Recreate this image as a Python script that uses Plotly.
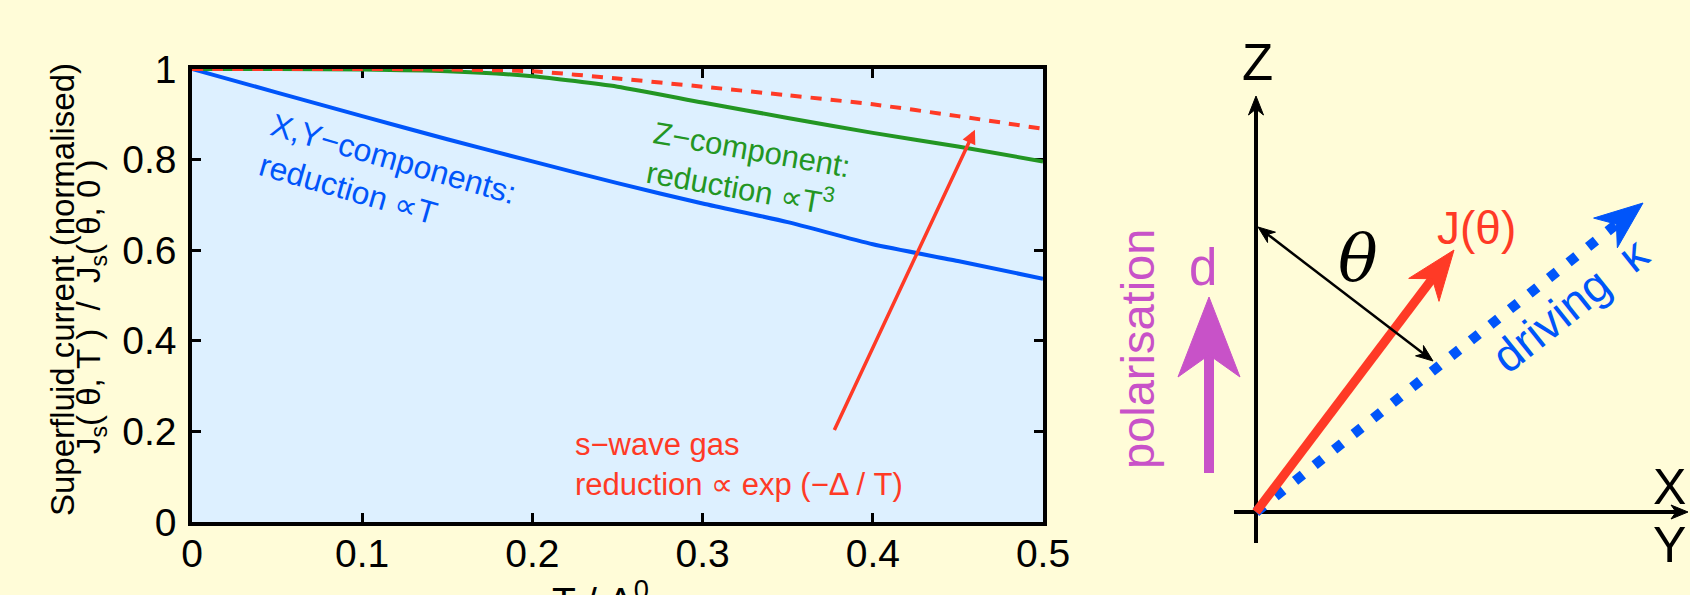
import math
import plotly.graph_objects as go

W, H = 1690, 595

# ---------------- main chart data ----------------
T = [0.0, 0.05, 0.10, 0.15, 0.20, 0.25, 0.30, 0.35, 0.40, 0.45, 0.50]
J_XY = [1.000, 0.948, 0.896, 0.845, 0.796, 0.748, 0.703, 0.662, 0.613, 0.576, 0.537]
J_Z = [1.000, 1.000, 0.999, 0.995, 0.984, 0.961, 0.926, 0.892, 0.859, 0.829, 0.796]
J_SWAVE = [1.000, 1.000, 1.000, 0.999, 0.995, 0.979, 0.961, 0.942, 0.922, 0.896, 0.868]
X_TICKS = [0, 0.1, 0.2, 0.3, 0.4, 0.5]
Y_TICKS = [0, 0.2, 0.4, 0.6, 0.8, 1]
SWAVE_ARROW_TAIL = (0.377, 0.20)
SWAVE_ARROW_TIP = (0.460, 0.866)

# ---------------- diagram data (units of 100 px, origin at axes crossing) ----------------
Z_AXIS = [(0.0, -0.31), (0.0, 4.16)]
X_AXIS = [(-0.22, 0.0), (4.32, 0.0)]
J_VEC = [(0.0, 0.0), (1.98, 2.62)]
K_VEC = [(0.0, 0.0), (3.87, 3.09)]
D_VEC = [(-0.47, 0.39), (-0.47, 2.15)]
THETA_ARROW = [(0.02, 2.85), (1.77, 1.51)]

# colours
PAPER = "rgb(255,252,216)"
PLOTBG = "rgb(221,240,255)"
BLUE = "rgb(0,85,250)"
GREEN = "rgb(35,150,35)"
RED = "rgb(255,58,38)"
MAGENTA = "rgb(200,82,200)"
FONT = "Liberation Sans, Arial, Helvetica, sans-serif"

fig = go.Figure()

# ---- main chart traces ----
fig.add_trace(go.Scatter(x=T, y=J_XY, mode="lines", line=dict(color=BLUE, width=4, shape="spline", smoothing=0.6),
                         showlegend=False, hoverinfo="skip"))
fig.add_trace(go.Scatter(x=T, y=J_Z, mode="lines", line=dict(color=GREEN, width=4, shape="spline", smoothing=0.6),
                         showlegend=False, hoverinfo="skip"))
fig.add_trace(go.Scatter(x=T, y=J_SWAVE, mode="lines",
                         line=dict(color=RED, width=4, dash="11px,9px", shape="spline", smoothing=0.6),
                         showlegend=False, hoverinfo="skip"))


# ---- diagram helpers ----
def head_poly(p0, p1, length, half, notch):
    (x0, y0), (x1, y1) = p0, p1
    dx, dy = x1 - x0, y1 - y0
    L = math.hypot(dx, dy)
    ux, uy = dx / L, dy / L
    nx, ny = -uy, ux
    bx, by = x1 - ux * length, y1 - uy * length
    xs = [x1, bx + nx * half, x1 - ux * notch, bx - nx * half, x1]
    ys = [y1, by + ny * half, y1 - uy * notch, by - ny * half, y1]
    shaft_end = (x1 - ux * notch * 0.95, y1 - uy * notch * 0.95)
    return xs, ys, shaft_end


def add_arrow(p0, p1, color, width, length, half, notch, dash=None, both=False):
    xs, ys, end = head_poly(p0, p1, length, half, notch)
    start = p0
    if both:
        xs2, ys2, start = head_poly(p1, p0, length, half, notch)
    line = dict(color=color, width=width)
    if dash:
        line["dash"] = dash
    fig.add_trace(go.Scatter(x=[start[0], end[0]], y=[start[1], end[1]], mode="lines",
                             line=line, xaxis="x2", yaxis="y2",
                             showlegend=False, hoverinfo="skip"))
    fig.add_trace(go.Scatter(x=xs, y=ys, mode="lines", fill="toself", fillcolor=color,
                             line=dict(color=color, width=1), xaxis="x2", yaxis="y2",
                             showlegend=False, hoverinfo="skip"))
    if both:
        fig.add_trace(go.Scatter(x=xs2, y=ys2, mode="lines", fill="toself", fillcolor=color,
                                 line=dict(color=color, width=1), xaxis="x2", yaxis="y2",
                                 showlegend=False, hoverinfo="skip"))


# coordinate axes of the diagram
add_arrow(Z_AXIS[0], Z_AXIS[1], "black", 4, 0.19, 0.075, 0.13)
add_arrow(X_AXIS[0], X_AXIS[1], "black", 4, 0.17, 0.07, 0.12)
# driving kappa (dotted blue)
add_arrow(K_VEC[0], K_VEC[1], BLUE, 10, 0.48, 0.19, 0.34, dash="10px,15px")
# current J (red)
add_arrow(J_VEC[0], J_VEC[1], RED, 9, 0.50, 0.19, 0.36)
# polarisation d (magenta)
add_arrow(D_VEC[0], D_VEC[1], MAGENTA, 10, 0.80, 0.31, 0.58)
# theta double arrow
add_arrow(THETA_ARROW[0], THETA_ARROW[1], "black", 2.5, 0.17, 0.065, 0.12, both=True)

# ---- annotations ----
ann = []
# red arrow inside plot
ann.append(dict(x=SWAVE_ARROW_TIP[0], y=SWAVE_ARROW_TIP[1], ax=SWAVE_ARROW_TAIL[0], ay=SWAVE_ARROW_TAIL[1],
                xref="x", yref="y", axref="x", ayref="y", text="", showarrow=True,
                arrowhead=2, arrowsize=0.8, arrowwidth=3.5, arrowcolor=RED, standoff=0))
ann.append(dict(x=0.115, y=0.757, xref="x", yref="y", showarrow=False, textangle=16, align="left",
                text="X,Y\u2212components:<br>reduction \u221dT",
                font=dict(family=FONT, size=32, color=BLUE)))
ann.append(dict(x=0.327, y=0.779, xref="x", yref="y", showarrow=False, textangle=10, align="left",
                text="Z\u2212component:<br>reduction \u221dT<sup>3</sup>",
                font=dict(family=FONT, size=31, color=GREEN)))
ann.append(dict(x=0.224, y=0.128, xref="x", yref="y", xanchor="left", showarrow=False, align="left",
                text="s\u2212wave gas<br>reduction \u221d exp (\u2212\u0394 / T)",
                font=dict(family=FONT, size=31, color=RED)))
# y-axis title lines
ann.append(dict(x=62 / W, y=(H - 290) / H, xref="paper", yref="paper", xanchor="center", yanchor="middle",
                showarrow=False, textangle=-90,
                text="Superfluid current (normalised)",
                font=dict(family=FONT, size=33, color="black")))
ann.append(dict(x=91 / W, y=(H - 307) / H, xref="paper", yref="paper", xanchor="center", yanchor="middle",
                showarrow=False, textangle=-90,
                text="J<sub>s</sub>(\u00a0\u03b8,\u00a0T\u00a0)\u00a0\u00a0/\u00a0\u00a0J<sub>s</sub>(\u00a0\u03b8,\u00a00\u00a0)",
                font=dict(family=FONT, size=33, color="black")))
# x-axis title (cut by the bottom edge)
ann.append(dict(x=600 / W, y=(H - 572) / H, xref="paper", yref="paper", xanchor="center", showarrow=False,
                yanchor="top", text="T / \u0394<sup>0</sup>",
                font=dict(family=FONT, size=39, color="black")))

# diagram labels
def dlabel(x, y, text, size, color, angle=0, family=FONT):
    ann.append(dict(x=x, y=y, xref="x2", yref="y2", xanchor="center", yanchor="middle",
                    showarrow=False, text=text, textangle=angle,
                    font=dict(family=family, size=size, color=color)))

dlabel(0.01, 4.50, "Z", 51, "black")
dlabel(4.13, 0.25, "X", 50, "black")
dlabel(4.13, -0.33, "Y", 50, "black")
dlabel(2.20, 2.84, "J(\u03b8)", 46, RED)
dlabel(1.02, 2.54, "<i>\u03b8</i>", 66, "black", family="DejaVu Serif, Liberation Serif, serif")
dlabel(3.14, 2.07, "driving\u00a0\u00a0\u03ba", 46, BLUE, angle=-38.6)
dlabel(-0.53, 2.45, "d", 51, MAGENTA)
dlabel(-1.19, 1.63, "polarisation", 47, MAGENTA, angle=-90)

axis_common = dict(showline=True, linecolor="black", linewidth=3.5, mirror="ticks",
                   ticks="inside", ticklen=9, tickwidth=3, tickcolor="black",
                   showgrid=False, zeroline=False, layer="below traces", automargin=False,
                   tickfont=dict(family=FONT, size=39, color="black"))

fig.update_layout(
    width=W, height=H,
    margin=dict(l=0, r=0, t=0, b=0, pad=0, autoexpand=False),
    paper_bgcolor=PAPER, plot_bgcolor="rgba(0,0,0,0)",
    showlegend=False,
    xaxis=dict(domain=[192 / W, 1043 / W], range=[0, 0.5], tickvals=X_TICKS,
               ticktext=[f"{v:g}" for v in X_TICKS], ticklabelstandoff=-6, **axis_common),
    yaxis=dict(domain=[(H - 522) / H, (H - 69) / H], range=[0, 1], tickvals=Y_TICKS,
               ticktext=[f"{v:g}" for v in Y_TICKS], ticklabelstandoff=4, **axis_common),
    xaxis2=dict(domain=[1100 / W, 1.0], range=[-1.56, 4.34], anchor="y2", visible=False,
                fixedrange=True, automargin=False),
    yaxis2=dict(domain=[0.0, 1.0], range=[-0.83, 5.12], anchor="x2", visible=False,
                fixedrange=True, automargin=False),
    shapes=[dict(type="rect", xref="x domain", yref="y domain", x0=0, x1=1, y0=0, y1=1,
                 fillcolor=PLOTBG, line=dict(width=0), layer="below")],
    annotations=ann,
)

fig.write_html("out.html",
               config={"displayModeBar": False},
               post_script="document.body.style.margin='0';document.body.style.background='"
                           + PAPER + "';document.body.style.overflow='hidden';")
